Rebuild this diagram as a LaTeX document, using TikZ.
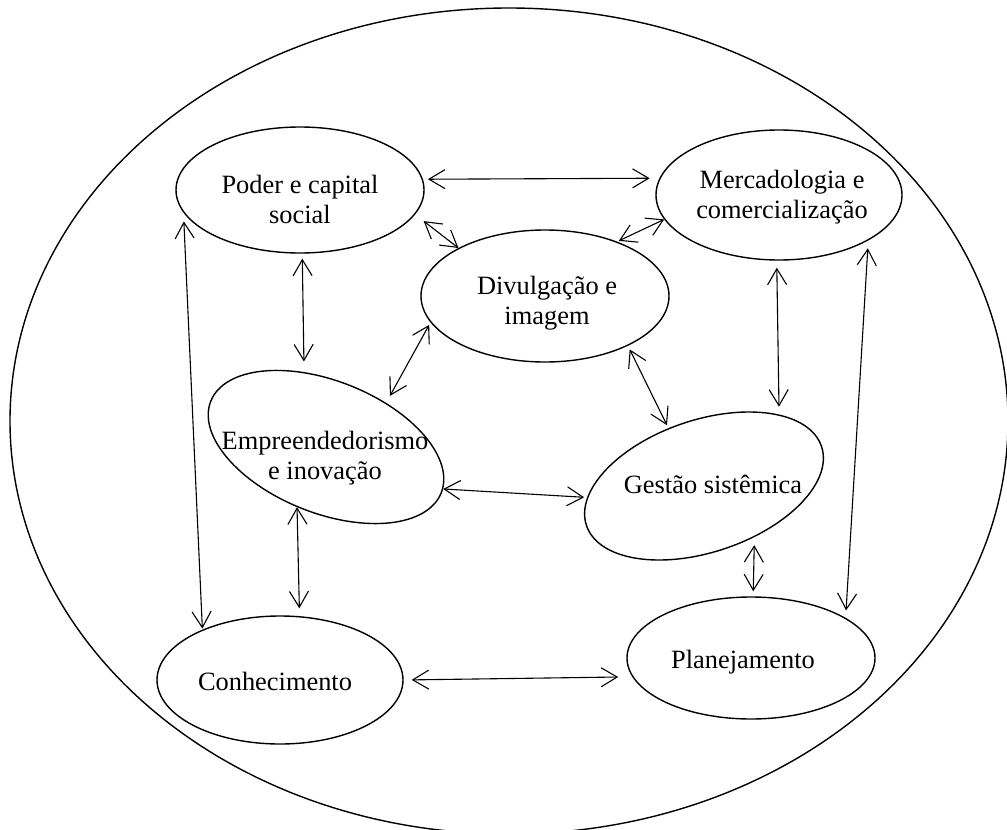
\documentclass[tikz,border=0pt]{standalone}
\usepackage{fontspec}
\setmainfont{Liberation Serif}
\usepackage{tikz}
\usetikzlibrary{shapes.geometric, arrows.meta}

\begin{document}
\begin{tikzpicture}[
  x=0.5pt, y=-0.5pt,
  elipse/.style={ellipse, draw, line width=0.7pt, inner sep=0pt},
  rotulo/.style={font=\fontsize{13.2}{15}\selectfont, align=center, inner sep=0pt},
  seta/.style={{Straight Barb[length=8pt,width=9.5pt]}-{Straight Barb[length=8pt,width=9.5pt]},
               line width=0.55pt}
]
\useasboundingbox (0,0) rectangle (1007,830);
\clip (0,0) rectangle (1007,830);

% contorno externo
\draw[line width=0.7pt] (509,421) ellipse [x radius=249.5pt, y radius=206.5pt];

\node[elipse, minimum width=124pt, minimum height=63pt] (poder) at (300,190) {};
\node[rotulo] (poderT) at (300,199) {Poder e capital\\social};
\node[elipse, minimum width=123pt, minimum height=65pt] (merc) at (779,195) {};
\node[rotulo] (mercT) at (782,197) {Mercadologia e\\comercialização};
\node[elipse, minimum width=124pt, minimum height=66pt] (divul) at (545,296) {};
\node[rotulo] (divulT) at (547,303) {Divulgação e\\imagem};
\node[elipse, rotate=-21.7, minimum width=124pt, minimum height=66pt] (empre) at (326,447) {};
\node[rotulo] (empreT) at (325,458) {Empreendedorismo\\e inovação};
\node[elipse, rotate=18.6, minimum width=124pt, minimum height=66pt] (gestao) at (704,486) {};
\node[rotulo] (gestaoT) at (713,484) {Gestão sistêmica};
\node[elipse, minimum width=123pt, minimum height=64pt] (conhec) at (280,680) {};
\node[rotulo] (conhecT) at (275,681) {Conhecimento};
\node[elipse, minimum width=124pt, minimum height=61pt] (planej) at (751,658) {};
\node[rotulo] (planejT) at (743,662) {Planejamento};

% ligacoes
\draw[seta, shorten <=2.5pt, shorten >=4.9pt] (poder.5.4) -- (merc.172.5);
\draw[seta, shorten <=5.4pt] (poder.-12.6) -- (divul.151.9);
\draw[seta, shorten <=0.9pt] (divul.37) -- (merc.192.7);
\draw[seta, shorten <=2.5pt, shorten >=5.3pt] (poder.-88.2) -- (empre.128.9);
\draw[seta, shorten <=4.4pt, shorten >=0.5pt] (poder.191.4) -- (conhec.147.7);
\draw[seta, shorten <=1.4pt, shorten >=4pt] (divul.193.2) -- (empre.58.9);
\draw[seta, shorten <=2pt, shorten >=1.6pt] (divul.-31) -- (gestao.103.2);
\draw[seta, shorten <=3.5pt, shorten >=3.9pt] (merc.268.2) -- (gestao.25.7);
\draw[seta, shorten <=3.9pt, shorten >=3.7pt] (merc.-27) -- (planej.23.7);
\draw[seta, shorten <=4pt, shorten >=2.5pt] (gestao.-64.7) -- (planej.88.1);
\draw[seta, shorten >=1.5pt] (empre.2.7) -- (gestao.167.9);
\draw[seta, shorten >=3.9pt] (empre.266.6) -- (conhec.73.3);
\draw[seta, shorten <=4pt, shorten >=7pt] (conhec.0.9) -- (planej.189.7);
\end{tikzpicture}
\end{document}
